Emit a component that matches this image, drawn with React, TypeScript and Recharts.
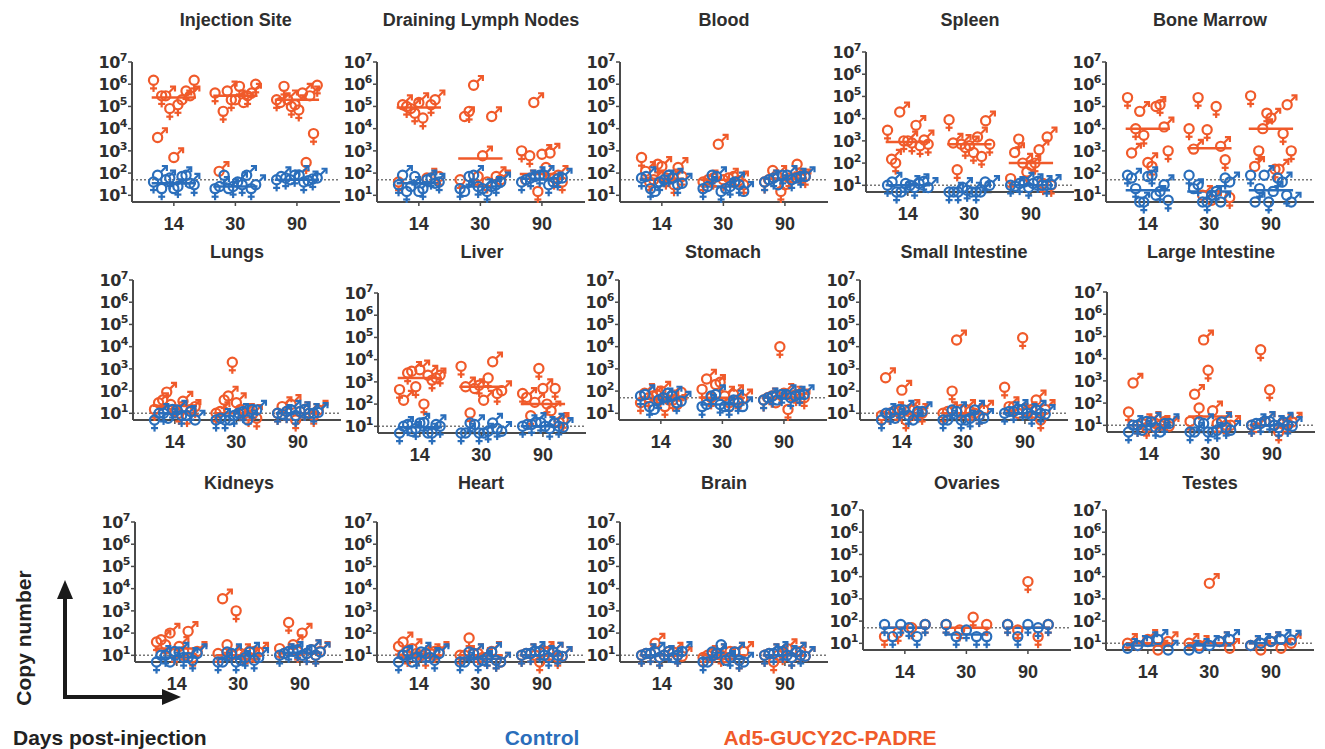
import { ScatterChart, Scatter, XAxis, YAxis, ReferenceLine } from 'recharts';

type Group = { f: number[]; m: number[] };

const ORANGE = '#F05A2A';
const BLUE = '#2A6EBB';
const AXIS = '#4a4a4a';
const TEXT = '#2e2e2e';

const DAYS = ['14', '30', '90'];
const Y_TICKS = [10, 100, 1e3, 1e4, 1e5, 1e6, 1e7];

// values: copy number per mouse, female / male
const injectionAd5: Group[] = [
  { f: [1.5e6, 3e5, 8e4, 1.2e5, 5e5, 1.5e6], m: [4e3, 3e5, 5e2, 2e5, 3e5] },
  { f: [4e5, 6e4, 2e5, 8e5, 3e5, 1e6], m: [1.2e2, 5e5, 2e5, 1.5e5, 4e5] },
  { f: [2e5, 8e5, 1e5, 7e4, 3e2, 6e3, 9e5], m: [1.5e5, 2e5, 1.2e5, 4e5, 3e5] },
];
const injectionCtrl: Group[] = [
  { f: [40, 20, 60, 25, 80, 30], m: [80, 50, 20, 70, 35] },
  { f: [20, 80, 25, 30, 20], m: [25, 20, 40, 80, 30] },
  { f: [50, 60, 80, 40, 55], m: [70, 50, 80, 45, 60] },
];
const lymphAd5: Group[] = [
  { f: [40, 1e5, 5e4, 3e4, 1.2e5, 70], m: [1.2e5, 8e4, 1.5e5, 60, 2e5] },
  { f: [50, 6e4, 70, 40], m: [3.5e4, 9e5, 6e2, 3.5e4, 70, 50] },
  { f: [1e3, 6e2, 15, 1.8e2, 60, 40], m: [50, 1.5e5, 7e2, 8e2, 80] },
];
const lymphCtrl: Group[] = [
  { f: [30, 15, 70, 20, 60, 40], m: [80, 25, 15, 50, 35] },
  { f: [20, 70, 25, 15, 30], m: [15, 80, 20, 25, 40] },
  { f: [40, 60, 80, 30, 55], m: [50, 70, 80, 40, 60] },
];
const bloodAd5: Group[] = [
  { f: [5e2, 40, 2.5e2, 60, 30, 70], m: [1.2e2, 50, 2e2, 55, 1.8e2] },
  { f: [40, 60, 50, 70, 30], m: [50, 2e3, 60, 45] },
  { f: [40, 1.3e2, 15, 60, 2.5e2, 70], m: [50, 80, 30, 60, 55] },
];
const bloodCtrl: Group[] = [
  { f: [60, 20, 40, 80, 30], m: [70, 15, 50, 60, 35] },
  { f: [20, 80, 15, 25, 30], m: [25, 70, 20, 40, 15] },
  { f: [40, 60, 80, 50, 70], m: [50, 30, 80, 60, 70] },
];
const spleenAd5: Group[] = [
  { f: [3e3, 1e2, 1e3, 8e2, 6e2, 7e2], m: [1.5e2, 2e4, 1e3, 5e3, 1.1e3] },
  { f: [9e3, 50, 5e2, 3e2, 2e2, 7e2], m: [8e2, 7e2, 6e2, 1.5e3, 8e3] },
  { f: [20, 1.2e3, 40, 1e2, 12, 10], m: [3e2, 1e2, 80, 4e2, 1.5e3] },
];
const spleenCtrl: Group[] = [
  { f: [10, 5, 12, 8, 15], m: [14, 5, 10, 12, 8] },
  { f: [5, 5, 6, 5, 14], m: [5, 8, 5, 5, 10] },
  { f: [10, 12, 8, 15, 10], m: [9, 14, 12, 10, 11] },
];
const marrowAd5: Group[] = [
  { f: [2.5e5, 1e4, 5e3, 2e2, 1.2e5, 1e3], m: [8e2, 6e4, 3e2, 1e5, 1.2e4] },
  { f: [1e4, 2.5e5, 9e3, 1e5, 4e2, 8], m: [1.2e3, 10, 6, 1.6e3] },
  { f: [3e5, 1e3, 5e4, 1.5e2, 6e3, 1e3], m: [2e2, 1e4, 3e4, 1.5e2, 1.2e5] },
];
const marrowCtrl: Group[] = [
  { f: [80, 20, 5, 80, 15, 6], m: [60, 5, 70, 10, 30] },
  { f: [80, 30, 5, 15, 60], m: [20, 5, 10, 5, 40] },
  { f: [80, 20, 5, 60, 10], m: [5, 80, 15, 40, 5] },
];
const lungsAd5: Group[] = [
  { f: [15, 40, 25, 10, 8, 20], m: [30, 90, 12, 35, 15] },
  { f: [10, 40, 2e3, 15, 8, 6], m: [12, 60, 30, 10, 9] },
  { f: [10, 12, 5, 15, 8], m: [20, 25, 12, 10, 14] },
];
const lungsCtrl: Group[] = [
  { f: [5, 10, 15, 8, 12], m: [10, 6, 14, 8, 5] },
  { f: [5, 5, 8, 12, 15], m: [6, 5, 10, 5, 14] },
  { f: [10, 12, 8, 15, 10], m: [9, 14, 12, 10, 11] },
];
const liverAd5: Group[] = [
  { f: [4.5e2, 2.5e3, 6e2, 1e2, 1.2e3, 2e3], m: [1.5e2, 3e3, 3.5e3, 2e3, 1.5e3] },
  { f: [5e3, 40, 7e2, 1.5e3, 3e2], m: [6e2, 5e2, 1.5e2, 8e3, 4e2] },
  { f: [3e2, 30, 4e3, 1e2, 5e2, 20], m: [2e2, 1.2e2, 5e2, 50, 15] },
];
const liverCtrl: Group[] = [
  { f: [5, 12, 8, 15, 5, 10], m: [10, 6, 14, 5, 12] },
  { f: [5, 14, 5, 6, 8], m: [5, 12, 5, 14, 6] },
  { f: [10, 12, 15, 8, 10], m: [12, 15, 10, 14, 9] },
];
const stomachAd5: Group[] = [
  { f: [30, 50, 70, 20, 40, 90], m: [80, 60, 1e2, 40, 25] },
  { f: [1.2e2, 50, 2.5e2, 30, 40], m: [3.5e2, 2e2, 60, 70, 45] },
  { f: [40, 60, 1e4, 15, 70, 50], m: [50, 30, 80, 60, 45] },
];
const stomachCtrl: Group[] = [
  { f: [60, 20, 40, 80, 30], m: [70, 15, 50, 60, 35] },
  { f: [20, 60, 25, 20, 30], m: [25, 70, 20, 40, 20] },
  { f: [40, 60, 70, 50, 70], m: [50, 40, 70, 60, 70] },
];
const smallAd5: Group[] = [
  { f: [8, 10, 12, 5, 15, 10], m: [4e2, 12, 1.1e2, 15, 10] },
  { f: [10, 1e2, 15, 12, 8], m: [12, 2e4, 15, 10, 14] },
  { f: [1.5e2, 20, 2.5e4, 15, 5], m: [20, 10, 12, 40, 15] },
];
const smallCtrl: Group[] = [
  { f: [5, 10, 15, 8, 12], m: [10, 6, 14, 5, 12] },
  { f: [5, 14, 5, 6, 8], m: [5, 12, 5, 14, 6] },
  { f: [10, 12, 15, 8, 10], m: [12, 15, 10, 14, 9] },
];
const largeAd5: Group[] = [
  { f: [40, 10, 8, 12, 15], m: [8e2, 12, 15, 10, 9] },
  { f: [15, 60, 3e3, 12, 10], m: [2.5e2, 7e4, 45, 15, 10] },
  { f: [10, 2.5e4, 4e2, 5, 12], m: [8, 15, 10, 12, 14] },
];
const largeCtrl: Group[] = [
  { f: [5, 10, 15, 8, 12], m: [10, 6, 14, 5, 12] },
  { f: [5, 14, 5, 6, 8], m: [5, 12, 5, 14, 6] },
  { f: [10, 12, 15, 8, 10], m: [12, 15, 10, 14, 9] },
];
const kidneyAd5: Group[] = [
  { f: [40, 30, 12, 15, 8], m: [50, 1e2, 25, 1.2e2, 15] },
  { f: [12, 30, 1e3, 10, 15], m: [3.5e3, 10, 12, 8, 14] },
  { f: [20, 3e2, 15, 12, 10], m: [12, 30, 1e2, 18, 15] },
];
const kidneyCtrl: Group[] = [
  { f: [5, 10, 15, 8, 6], m: [10, 5, 14, 8, 12] },
  { f: [5, 14, 5, 8, 6], m: [5, 12, 6, 14, 8] },
  { f: [10, 15, 18, 12, 10], m: [12, 15, 10, 18, 14] },
];
const heartAd5: Group[] = [
  { f: [25, 10, 12, 8, 15], m: [40, 20, 10, 12, 15] },
  { f: [10, 60, 12, 8, 6], m: [10, 12, 8, 15, 5] },
  { f: [10, 12, 5, 15, 8], m: [12, 10, 15, 14, 9] },
];
const heartCtrl: Group[] = [
  { f: [5, 15, 8, 12, 6], m: [10, 5, 14, 8, 12] },
  { f: [5, 14, 5, 8, 6], m: [5, 12, 6, 14, 5] },
  { f: [10, 12, 15, 8, 10], m: [12, 15, 10, 14, 9] },
];
const brainAd5: Group[] = [
  { f: [10, 12, 8, 15, 10], m: [12, 35, 10, 14, 9] },
  { f: [8, 12, 10, 15, 6], m: [10, 12, 8, 14, 15] },
  { f: [10, 5, 12, 8, 15], m: [12, 10, 20, 14, 9] },
];
const brainCtrl: Group[] = [
  { f: [10, 12, 8, 15, 10], m: [12, 14, 10, 8, 15] },
  { f: [5, 14, 30, 8, 6], m: [5, 12, 6, 14, 5] },
  { f: [10, 12, 15, 8, 10], m: [12, 15, 10, 14, 9] },
];
const ovaryAd5: Group[] = [
  { f: [20, 30, 50, 70], m: [] },
  { f: [70, 40, 1.5e2, 70], m: [] },
  { f: [70, 40, 6e3, 20, 70], m: [] },
];
const ovaryCtrl: Group[] = [
  { f: [70, 20, 70, 50, 20, 70], m: [] },
  { f: [70, 20, 40, 20, 20], m: [] },
  { f: [70, 20, 70, 50, 70], m: [] },
];
const testesAd5: Group[] = [
  { f: [], m: [10, 8, 15, 5, 12] },
  { f: [], m: [10, 8, 5e3, 12, 6] },
  { f: [], m: [8, 5, 12, 6, 10] },
];
const testesCtrl: Group[] = [
  { f: [], m: [6, 8, 12, 15, 5] },
  { f: [], m: [5, 6, 8, 12, 15] },
  { f: [], m: [8, 10, 12, 15, 14] },
];

// group medians and detection limits
const medAd5 = {
  injection: [2.5e5, 3e5, 2e5], lymph: [9e4, 4.5e2, 90], blood: [55, 50, 55],
  spleen: [9e2, 7e2, 1e2], marrow: [1e4, 1.3e3, 1e4], lungs: [22, 10, 10],
  liver: [1.5e3, 6e2, 1e2], stomach: [50, 50, 50], small: [10, 10, 10],
  large: [10, 25, 10], kidney: [20, 10, 12], heart: [10, 10, 10],
  brain: [10, 10, 10], ovary: [50, 50, 50], testes: [10, 10, 10],
};
const medCtrl = {
  injection: [35, 25, 50], lymph: [35, 25, 55], blood: [50, 25, 55],
  spleen: [10, 5, 10], marrow: [17, 15, 17], lungs: [10, 5, 10],
  liver: [9, 5, 10], stomach: [45, 25, 50], small: [10, 5, 10],
  large: [10, 5, 10], kidney: [8, 7, 13], heart: [8, 7, 10],
  brain: [10, 7, 10], ovary: [50, 25, 50], testes: [8, 8, 10],
};

const panels = [
  { title: 'Injection Site', key: 'injection', ad5: injectionAd5, ctrl: injectionCtrl, lod: 50, ax: 131.7, top: 61.7, ty: 20 },
  { title: 'Draining Lymph Nodes', key: 'lymph', ad5: lymphAd5, ctrl: lymphCtrl, lod: 50, ax: 377, top: 61.7, ty: 20 },
  { title: 'Blood', key: 'blood', ad5: bloodAd5, ctrl: bloodCtrl, lod: 50, ax: 620, top: 61.7, ty: 20 },
  { title: 'Spleen', key: 'spleen', ad5: spleenAd5, ctrl: spleenCtrl, lod: 10, ax: 866, top: 51.7, ty: 20 },
  { title: 'Bone Marrow', key: 'marrow', ad5: marrowAd5, ctrl: marrowCtrl, lod: 50, ax: 1106, top: 61.7, ty: 20 },
  { title: 'Lungs', key: 'lungs', ad5: lungsAd5, ctrl: lungsCtrl, lod: 10, ax: 133, top: 280, ty: 252 },
  { title: 'Liver', key: 'liver', ad5: liverAd5, ctrl: liverCtrl, lod: 10, ax: 378, top: 293.3, ty: 252 },
  { title: 'Stomach', key: 'stomach', ad5: stomachAd5, ctrl: stomachCtrl, lod: 50, ax: 619, top: 280, ty: 252 },
  { title: 'Small Intestine', key: 'small', ad5: smallAd5, ctrl: smallCtrl, lod: 10, ax: 860, top: 280, ty: 252 },
  { title: 'Large Intestine', key: 'large', ad5: largeAd5, ctrl: largeCtrl, lod: 10, ax: 1107, top: 291.7, ty: 252 },
  { title: 'Kidneys', key: 'kidney', ad5: kidneyAd5, ctrl: kidneyCtrl, lod: 10, ax: 135, top: 521.7, ty: 483 },
  { title: 'Heart', key: 'heart', ad5: heartAd5, ctrl: heartCtrl, lod: 10, ax: 377, top: 521.7, ty: 483 },
  { title: 'Brain', key: 'brain', ad5: brainAd5, ctrl: brainCtrl, lod: 10, ax: 620, top: 521.7, ty: 483 },
  { title: 'Ovaries', key: 'ovary', ad5: ovaryAd5, ctrl: ovaryCtrl, lod: 50, ax: 863, top: 510, ty: 483 },
  { title: 'Testes', key: 'testes', ad5: testesAd5, ctrl: testesCtrl, lod: 10, ax: 1106, top: 510, ty: 483 },
];

const Y_AXIS_W = 45;
const CHART_W = 255;
const PLOT_H = 140;
const TOP_M = 16;
const X_AXIS_H = 40;
const SPREAD = 0.66;

// lay the mice of each day side by side, females and males alternating
function toPoints(groups: Group[]) {
  const out: { x: number; y: number; sex: string }[] = [];
  groups.forEach((g, gi) => {
    const seq: { y: number; sex: string }[] = [];
    const n = Math.max(g.f.length, g.m.length);
    for (let i = 0; i < n; i++) {
      if (i < g.f.length) seq.push({ y: g.f[i], sex: 'f' });
      if (i < g.m.length) seq.push({ y: g.m[i], sex: 'm' });
    }
    seq.forEach((p, k) => {
      const off = seq.length > 1 ? (k / (seq.length - 1) - 0.5) * SPREAD : 0;
      out.push({ x: gi + off, y: p.y, sex: p.sex });
    });
  });
  return out;
}

function SexMark(props: any) {
  const { cx, cy, payload, color } = props;
  if (cx == null || cy == null) return null;
  const r = 4.6;
  if (payload.sex === 'f') {
    return (
      <g stroke={color} strokeWidth={2.2} fill="none">
        <circle cx={cx} cy={cy} r={r} />
        <line x1={cx} y1={cy + r} x2={cx} y2={cy + r + 7} />
        <line x1={cx - 3.5} y1={cy + r + 3.5} x2={cx + 3.5} y2={cy + r + 3.5} />
      </g>
    );
  }
  const d = r * 0.707;
  const sx = cx + d;
  const sy = cy - d;
  const tx = sx + 6;
  const ty = sy - 6;
  return (
    <g stroke={color} strokeWidth={2.2} fill="none">
      <circle cx={cx} cy={cy} r={r} />
      <line x1={sx} y1={sy} x2={tx} y2={ty} />
      <polyline points={`${tx - 5},${ty} ${tx},${ty} ${tx},${ty + 5}`} />
    </g>
  );
}

function PowerTick(props: any) {
  const { x, y, payload } = props;
  const exp = Math.round(Math.log10(payload.value));
  return (
    <text
      x={x}
      y={y}
      dy="0.36em"
      textAnchor="end"
      fill={TEXT}
      fontSize={16}
      fontWeight="bold"
      fontFamily='"DejaVu Sans", sans-serif'
      letterSpacing={-0.5}
    >
      <tspan>10</tspan>
      <tspan dy={-7} fontSize={11}>{exp}</tspan>
    </text>
  );
}

function Panel({ p }: { p: (typeof panels)[number] }) {
  const ad5 = toPoints(p.ad5);
  const ctrl = toPoints(p.ctrl);
  const mA = (medAd5 as any)[p.key] as number[];
  const mC = (medCtrl as any)[p.key] as number[];
  return (
    <div style={{ position: 'absolute', left: p.ax - Y_AXIS_W, top: p.top - TOP_M }}>
      <ScatterChart
        width={CHART_W}
        height={TOP_M + PLOT_H + X_AXIS_H}
        margin={{ top: TOP_M, right: 2, left: 0, bottom: 0 }}
        style={{ overflow: 'visible' }}
      >
        <XAxis
          type="number"
          dataKey="x"
          domain={[-0.68, 2.7]}
          ticks={[0, 1, 2]}
          tickFormatter={(v) => DAYS[v]}
          height={X_AXIS_H}
          axisLine={{ stroke: AXIS, strokeWidth: 2 }}
          tickLine={{ stroke: AXIS, strokeWidth: 1.5 }}
          tickSize={4}
          tickMargin={11}
          tick={{ fill: TEXT, fontSize: 18, fontWeight: 'bold' }}
          allowDataOverflow
        />
        <YAxis
          type="number"
          dataKey="y"
          scale="log"
          domain={[5, 1e7]}
          ticks={Y_TICKS}
          width={Y_AXIS_W}
          axisLine={{ stroke: AXIS, strokeWidth: 2 }}
          tickLine={{ stroke: AXIS, strokeWidth: 1.5 }}
          tickSize={4}
          tickMargin={1}
          tick={<PowerTick />}
          interval={0}
        />
        <ReferenceLine y={p.lod} stroke="#777" strokeWidth={1.5} strokeDasharray="2 2" />
        <Scatter
          data={ad5}
          isAnimationActive={false}
          shape={(s: any) => <SexMark {...s} color={ORANGE} />}
        />
        <Scatter
          data={ctrl}
          isAnimationActive={false}
          shape={(s: any) => <SexMark {...s} color={BLUE} />}
        />
        {mA.map((m, g) => (
          <ReferenceLine
            key={'a' + g}
            segment={[{ x: g - 0.36, y: m }, { x: g + 0.36, y: m }]}
            stroke={ORANGE}
            strokeWidth={2.5}
          />
        ))}
        {mC.map((m, g) => (
          <ReferenceLine
            key={'c' + g}
            segment={[{ x: g - 0.36, y: m }, { x: g + 0.36, y: m }]}
            stroke={BLUE}
            strokeWidth={2.5}
          />
        ))}
      </ScatterChart>
    </div>
  );
}

export default function App() {
  return (
    <div
      style={{
        position: 'absolute',
        left: 0,
        top: 0,
        width: 1325,
        height: 749,
        background: '#fff',
        fontFamily: '"Liberation Sans", Arial, sans-serif',
        overflow: 'hidden',
      }}
    >
      {panels.map((p) => (
        <div
          key={p.title + 't'}
          style={{
            position: 'absolute',
            left: p.ax + 104 - 120,
            width: 240,
            top: p.ty - 11,
            textAlign: 'center',
            fontSize: 18,
            fontWeight: 'bold',
            color: TEXT,
            lineHeight: '22px',
          }}
        >
          {p.title}
        </div>
      ))}
      {panels.map((p) => (
        <Panel key={p.title} p={p} />
      ))}

      <svg width={1325} height={749} style={{ position: 'absolute', left: 0, top: 0, pointerEvents: 'none' }}>
        <line x1={65} y1={697} x2={65} y2={594} stroke="#1a1a1a" strokeWidth={4} />
        <polygon points="65,580 57,599 73,599" fill="#1a1a1a" />
        <line x1={63} y1={697} x2={166} y2={697} stroke="#1a1a1a" strokeWidth={4} />
        <polygon points="181,697 162,689 162,705" fill="#1a1a1a" />
        <text
          x={0}
          y={0}
          transform="translate(31,638) rotate(-90)"
          textAnchor="middle"
          fontSize={21}
          fontWeight="bold"
          fill="#222"
          fontFamily='"Liberation Sans", Arial, sans-serif'
        >
          Copy number
        </text>
        <text x={13} y={745} fontSize={21} fontWeight="bold" fill="#222" fontFamily='"Liberation Sans", Arial, sans-serif'>
          Days post-injection
        </text>
        <text x={542} y={745} textAnchor="middle" fontSize={21} fontWeight="bold" fill={BLUE} fontFamily='"Liberation Sans", Arial, sans-serif'>
          Control
        </text>
        <text x={830} y={745} textAnchor="middle" fontSize={21} fontWeight="bold" fill={ORANGE} fontFamily='"Liberation Sans", Arial, sans-serif'>
          Ad5-GUCY2C-PADRE
        </text>
      </svg>
    </div>
  );
}
